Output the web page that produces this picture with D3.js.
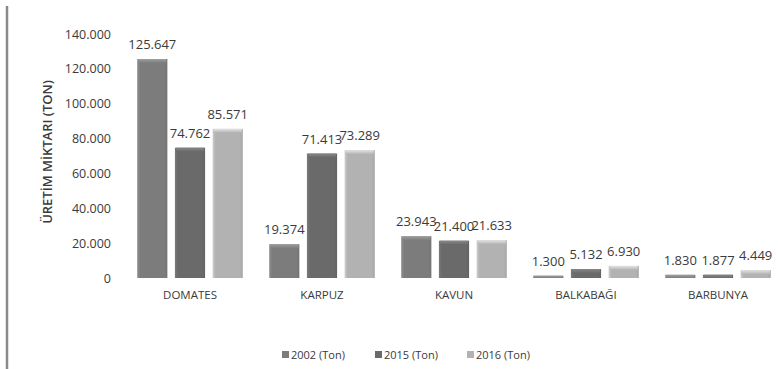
<!DOCTYPE html>
<html>
<head>
<meta charset="utf-8">
<script src="https://cdn.jsdelivr.net/npm/d3@7"></script>
<style>
  html, body { margin: 0; padding: 0; background: #fff; }
  svg { display: block; }
  text { font-family: "Open Sans", "Liberation Sans", sans-serif; fill: #3a3a3a; }
</style>
</head>
<body>
<svg id="chart" width="778" height="369"></svg>
<script>
// Production by crop (tons)
const categories = ["DOMATES", "KARPUZ", "KAVUN", "BALKABAĞI", "BARBUNYA"];
const seriesNames = ["2002 (Ton)", "2015 (Ton)", "2016 (Ton)"];
const values2002 = [125647, 19374, 23943, 1300, 1830];
const values2015 = [74762, 71413, 21400, 5132, 1877];
const values2016 = [85571, 73289, 21633, 6930, 4449];
const yTicks = [0, 20000, 40000, 60000, 80000, 100000, 120000, 140000];
const yTitle = "ÜRETİM MİKTARI (TON)";

const seriesValues = [values2002, values2015, values2016];
const baseColors = ["#7c7c7c", "#6a6a6a", "#b2b2b2"];

const svg = d3.select("#chart");
const fmt = v => d3.format(",")(v).replace(/,/g, ".");

// Frame line on the left
svg.append("line")
  .attr("x1", 7).attr("x2", 7).attr("y1", 6).attr("y2", 369)
  .attr("stroke", "#8a8a8a").attr("stroke-width", 2.5);

const x0 = d3.scaleBand().domain(categories).range([124, 784]).paddingInner(0.2).paddingOuter(0.1);
const x1 = d3.scaleBand().domain(d3.range(3)).range([0, x0.bandwidth()]).paddingInner(0.2);
const y = d3.scaleLinear().domain([0, 140000]).range([278, 34]);

// Gradients giving each bar a bevelled look
const defs = svg.append("defs");
baseColors.forEach((c, i) => {
  const g = defs.append("linearGradient").attr("id", "g" + i)
    .attr("x1", "0").attr("x2", "1").attr("y1", "0").attr("y2", "0");
  const light = d3.color(c).brighter(0.4);
  const dark = d3.color(c).darker(0.2);
  g.append("stop").attr("offset", "0").attr("stop-color", light);
  g.append("stop").attr("offset", "0.1").attr("stop-color", c);
  g.append("stop").attr("offset", "0.9").attr("stop-color", c);
  g.append("stop").attr("offset", "1").attr("stop-color", dark);
  const t = defs.append("linearGradient").attr("id", "t" + i)
    .attr("x1", "0").attr("x2", "0").attr("y1", "0").attr("y2", "1");
  t.append("stop").attr("offset", "0").attr("stop-color", d3.color(c).brighter(0.7));
  t.append("stop").attr("offset", "1").attr("stop-color", c);
});

// Y axis (labels only)
const yAxis = d3.axisLeft(y).tickValues(yTicks).tickSize(0).tickPadding(0)
  .tickFormat(fmt);
const ya = svg.append("g").attr("transform", "translate(111,0)").call(yAxis);
ya.select(".domain").remove();
ya.selectAll("text").attr("font-size", 12.5).attr("fill", "#333")
  .attr("font-family", "'Open Sans', sans-serif");

svg.append("text")
  .attr("transform", "translate(52,152) rotate(-90)")
  .attr("text-anchor", "middle")
  .attr("font-size", 13).attr("font-weight", 600)
  .attr("fill", "#444")
  .text(yTitle);

// Bars
const groups = svg.selectAll(".grp").data(categories).enter().append("g")
  .attr("transform", d => `translate(${x0(d)},0)`);

groups.each(function(cat, ci) {
  const g = d3.select(this);
  seriesValues.forEach((vals, si) => {
    const v = vals[ci];
    const bx = x1(si), bw = x1.bandwidth();
    const top = y(v), h = y(0) - y(v);
    g.append("rect")
      .attr("x", bx).attr("y", top).attr("width", bw).attr("height", h)
      .attr("fill", `url(#g${si})`);
    // top bevel
    g.append("rect")
      .attr("x", bx + 1).attr("y", top).attr("width", bw - 2).attr("height", Math.min(4, h))
      .attr("fill", `url(#t${si})`);
    g.append("text")
      .attr("x", bx + bw / 2).attr("y", top - 10)
      .attr("text-anchor", "middle")
      .attr("font-size", 13).attr("fill", "#333")
      .text(fmt(v));
  });
});

// Category labels
svg.selectAll(".cat").data(categories).enter().append("text")
  .attr("x", d => x0(d) + x0.bandwidth() / 2).attr("y", 299)
  .attr("text-anchor", "middle").attr("font-size", 11.5).attr("fill", "#444")
  .text(d => d);

// Legend
const legendX = [282, 375, 467];
seriesNames.forEach((n, i) => {
  svg.append("rect").attr("x", legendX[i]).attr("y", 351).attr("width", 7).attr("height", 7)
    .attr("fill", baseColors[i]);
  svg.append("text").attr("x", legendX[i] + 9).attr("y", 359)
    .attr("font-size", 11).attr("fill", "#555").text(n);
});
</script>
</body>
</html>
